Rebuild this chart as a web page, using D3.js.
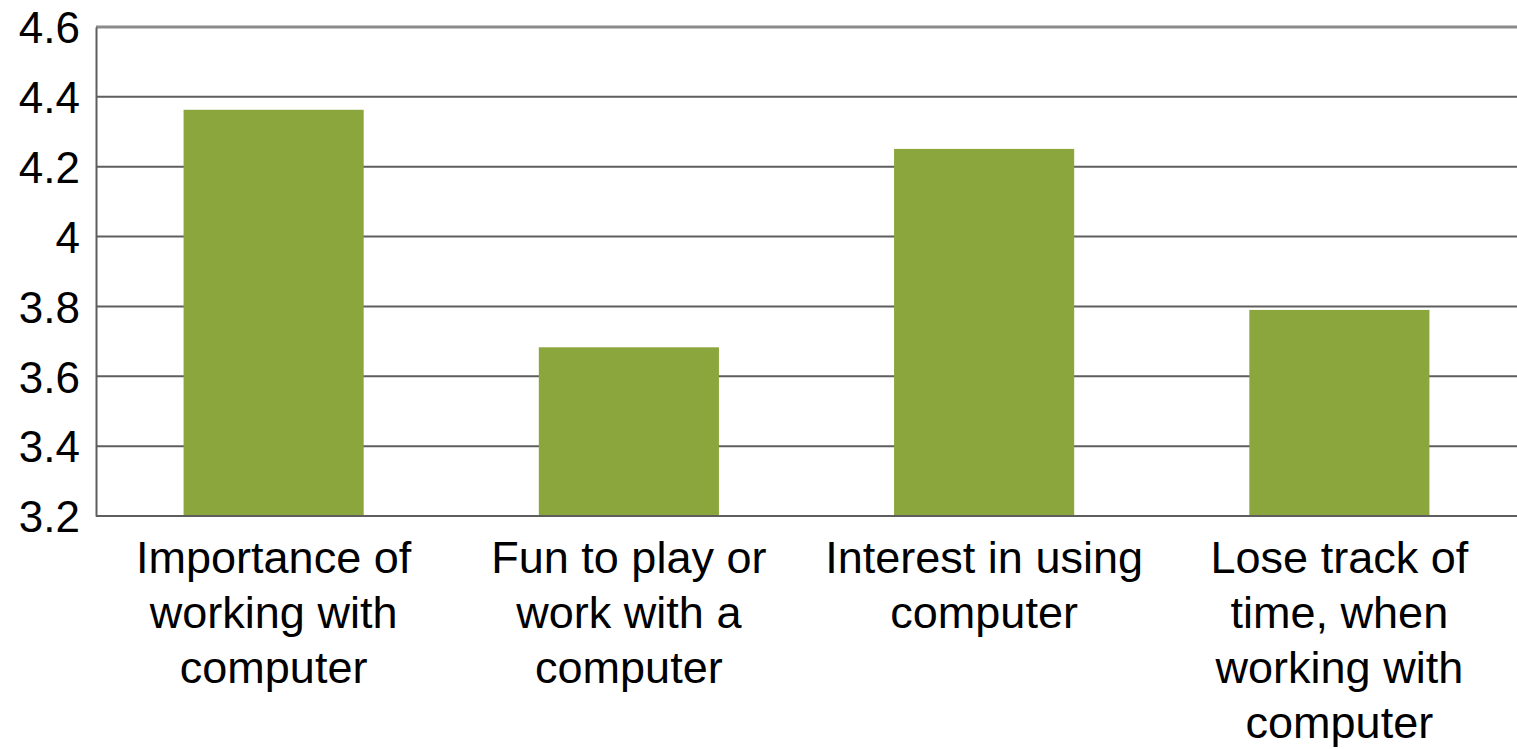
<!DOCTYPE html>
<html>
<head>
<meta charset="utf-8">
<script src="https://cdn.jsdelivr.net/npm/d3@7"></script>
<style>
  body { margin: 0; background: #fff; }
  svg text { font-family: "Liberation Sans", Arial, sans-serif; fill: #000; }
</style>
</head>
<body>
<svg id="chart" width="1517" height="749"></svg>
<script>
// data
var categories = [
  ["Importance of", "working with", "computer"],
  ["Fun to play or", "work with a", "computer"],
  ["Interest in using", "computer"],
  ["Lose track of", "time, when", "working with", "computer"]
];
var values = [4.363, 3.683, 4.251, 3.79];
var tick_values = [3.2, 3.4, 3.6, 3.8, 4.0, 4.2, 4.4, 4.6];

var margin = {top: 27, right: 0, bottom: 233, left: 96};
var w_svg = 1517, h_svg = 749;
var w = w_svg - margin.left - margin.right;
var h = h_svg - margin.top - margin.bottom;
var bar_color = "#8ba63c";
var line_h = 55;

var svg = d3.select("#chart");
var g = svg.append("g")
           .attr("transform", "translate(" + margin.left + "," + margin.top + ")");

var x = d3.scaleBand()
          .domain(d3.range(categories.length))
          .range([0, w])
          .paddingInner(0.493)
          .paddingOuter(0.2465);

var y = d3.scaleLinear()
          .domain([3.2, 4.6])
          .range([h, 0]);

// gridlines
g.selectAll(".grid")
 .data(tick_values.slice(1))
 .enter().append("line")
 .attr("class", "grid")
 .attr("x1", 0)
 .attr("x2", w)
 .attr("y1", function(d) { return y(d); })
 .attr("y2", function(d) { return y(d); })
 .style("stroke", function(d) { return d == 4.6 ? "#8a8a8a" : "#5e5e5e"; })
 .style("stroke-width", function(d) { return d == 4.6 ? 3 : 2; });

// bars
g.selectAll(".bar")
 .data(values)
 .enter().append("rect")
 .attr("class", "bar")
 .attr("x", function(d, i) { return x(i); })
 .attr("width", x.bandwidth())
 .attr("y", function(d) { return y(d); })
 .attr("height", function(d) { return h - y(d); })
 .style("fill", bar_color);

// y axis
var yAxis = d3.axisLeft(y)
              .tickValues(tick_values)
              .tickSize(0)
              .tickPadding(16)
              .tickFormat(function(d) { return d == 4 ? "4" : d3.format(".1f")(d); });
var ya = g.append("g").call(yAxis);
ya.select(".domain").style("stroke", "#5e5e5e").style("stroke-width", 2);
ya.selectAll("text")
  .style("font-size", "44px")
  .attr("dy", "0.36em");

// bottom axis line
g.append("line")
 .attr("x1", 0).attr("x2", w)
 .attr("y1", h).attr("y2", h)
 .style("stroke", "#5e5e5e")
 .style("stroke-width", 2);

// category labels
var labels = g.selectAll(".cat")
  .data(categories)
  .enter().append("text")
  .attr("class", "cat")
  .attr("text-anchor", "middle")
  .attr("transform", function(d, i) {
    return "translate(" + (x(i) + x.bandwidth() / 2) + "," + (h + 57) + ")";
  })
  .style("font-size", "45px");

labels.selectAll("tspan")
  .data(function(d) { return d; })
  .enter().append("tspan")
  .attr("x", 0)
  .attr("y", function(d, i) { return i * line_h; })
  .text(function(d) { return d; });
</script>
</body>
</html>
